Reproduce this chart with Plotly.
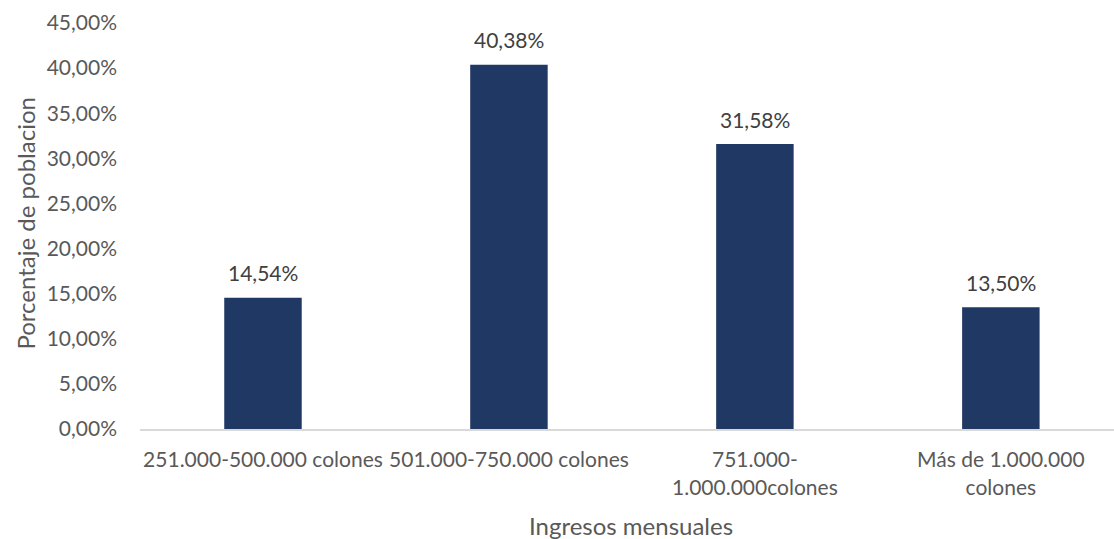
import plotly.graph_objects as go

# Monthly income brackets and share of population (%)
categories = [
    "251.000-500.000 colones",
    "501.000-750.000 colones",
    "751.000-<br>1.000.000colones",
    "Más de 1.000.000<br>colones",
]
shares = [14.54, 40.38, 31.58, 13.50]
y_ticks = [0, 5, 10, 15, 20, 25, 30, 35, 40, 45]
y_tick_labels = [f"{v:.2f}%".replace(".", ",") for v in y_ticks]

BAR = "#203864"
TEXT = "#595959"
FONT = "Lato"

W, H = 1114, 539
L, R, T, B = 139.5, 0, 23, 110
PW, PH = W - L - R, H - T - B


def paper_x(px):
    return (px - L) / PW


def paper_y(py):
    return (H - B - py) / PH


fig = go.Figure()
fig.add_trace(go.Bar(
    x=list(range(len(categories))),
    y=shares,
    marker=dict(color=BAR, line=dict(width=0)),
    width=0.315,
    hoverinfo="skip",
))

# value labels above each bar
for i, v in enumerate(shares):
    fig.add_annotation(
        x=i, y=v, xref="x", yref="y",
        text=f"{v:.2f}%".replace(".", ","),
        showarrow=False, yanchor="middle", yshift=25,
        font=dict(family=FONT, size=21, color="#404040"),
    )

# axis titles
fig.add_annotation(
    text="Ingresos mensuales", showarrow=False,
    xref="paper", yref="paper",
    x=paper_x(631), y=paper_y(525),
    xanchor="center", yanchor="middle",
    font=dict(family=FONT, size=24, color=TEXT),
)
fig.add_annotation(
    text="Porcentaje de poblacion", textangle=-90, showarrow=False,
    xref="paper", yref="paper",
    x=paper_x(24), y=paper_y(224),
    xanchor="center", yanchor="middle",
    font=dict(family=FONT, size=24, color=TEXT),
)

fig.update_layout(
    width=W, height=H,
    margin=dict(l=L, r=R, t=T, b=B, pad=0),
    paper_bgcolor="white", plot_bgcolor="white",
    showlegend=False,
    font=dict(family=FONT, size=21, color=TEXT),
    xaxis=dict(
        tickmode="array",
        tickvals=list(range(len(categories))),
        ticktext=categories,
        range=[-0.5, 3.46],
        showgrid=False, zeroline=False,
        showline=True, linecolor="#D9D9D9", linewidth=2,
        ticks="", ticklabelstandoff=11,
        tickfont=dict(family=FONT, size=21, color=TEXT),
    ),
    yaxis=dict(
        range=[0, 45],
        tickmode="array",
        tickvals=y_ticks,
        ticktext=y_tick_labels,
        showgrid=False, zeroline=False, showline=False,
        ticks="", ticklabelstandoff=22,
        tickfont=dict(family=FONT, size=21, color=TEXT),
    ),
)

fig.write_html("out.html")
